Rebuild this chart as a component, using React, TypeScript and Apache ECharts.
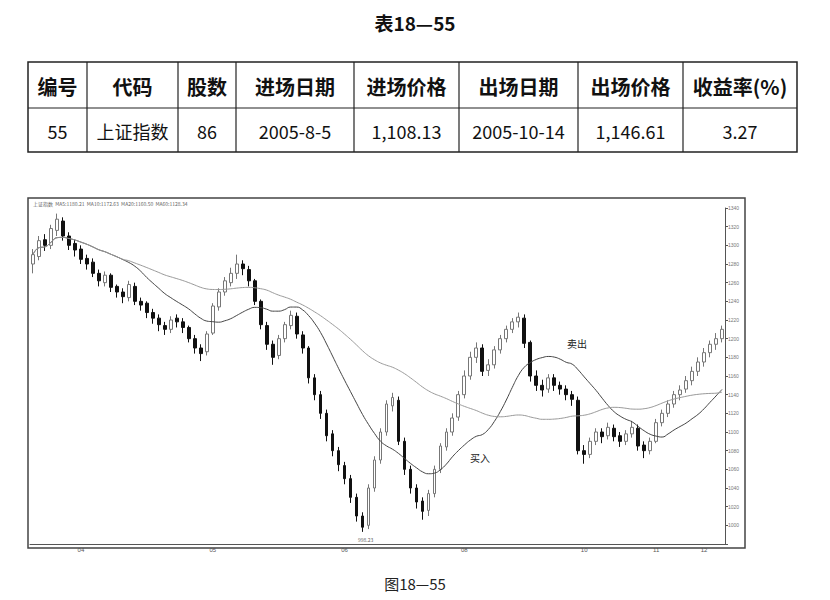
import { useEffect, useRef } from 'react';
import * as echarts from 'echarts';

// table 18-55
const tableHeader = ['编号', '代码', '股数', '进场日期', '进场价格', '出场日期', '出场价格', '收益率(%)'];
const tableRow = ['55', '上证指数', '86', '2005-8-5', '1,108.13', '2005-10-14', '1,146.61', '3.27'];
const colEdges = [28, 87, 178, 236, 354, 459, 578, 683, 797];

// daily bars [open, close, low, high]
const bars: number[][] = [
  [1280, 1290, 1270, 1296], [1288, 1305, 1284, 1310], [1306, 1300, 1294, 1312], [1300, 1318, 1296, 1322],
  [1316, 1328, 1310, 1334], [1326, 1310, 1305, 1330], [1310, 1300, 1295, 1314], [1302, 1295, 1288, 1306],
  [1296, 1285, 1280, 1300], [1286, 1280, 1274, 1290], [1282, 1270, 1266, 1286], [1270, 1262, 1256, 1274],
  [1260, 1268, 1256, 1272], [1268, 1255, 1250, 1270], [1256, 1250, 1244, 1258], [1250, 1245, 1238, 1254],
  [1244, 1258, 1240, 1262], [1256, 1240, 1236, 1260], [1240, 1236, 1230, 1244], [1238, 1228, 1222, 1240],
  [1228, 1222, 1216, 1232], [1222, 1215, 1208, 1226], [1214, 1210, 1204, 1218], [1210, 1220, 1206, 1224],
  [1222, 1218, 1212, 1226], [1218, 1212, 1206, 1222], [1212, 1200, 1196, 1214], [1200, 1190, 1184, 1204],
  [1190, 1184, 1176, 1194], [1186, 1205, 1182, 1208], [1206, 1235, 1204, 1238], [1234, 1250, 1230, 1254],
  [1250, 1262, 1246, 1266], [1260, 1270, 1256, 1276], [1270, 1280, 1264, 1290], [1280, 1275, 1268, 1284],
  [1274, 1262, 1256, 1278], [1262, 1240, 1236, 1264], [1240, 1215, 1210, 1242], [1214, 1194, 1188, 1218],
  [1194, 1180, 1172, 1198], [1182, 1200, 1178, 1204], [1200, 1215, 1196, 1218], [1214, 1225, 1210, 1230],
  [1224, 1205, 1200, 1228], [1204, 1190, 1184, 1208], [1190, 1158, 1152, 1192], [1158, 1140, 1134, 1162],
  [1140, 1120, 1114, 1144], [1120, 1096, 1090, 1124], [1098, 1080, 1074, 1102], [1080, 1065, 1058, 1084],
  [1064, 1050, 1044, 1068], [1050, 1030, 1024, 1054], [1030, 1010, 1004, 1034], [1010, 998, 993, 1014],
  [1000, 1040, 996, 1044], [1040, 1070, 1036, 1074], [1070, 1100, 1066, 1104], [1100, 1130, 1096, 1134],
  [1128, 1137, 1122, 1142], [1134, 1090, 1086, 1138], [1090, 1060, 1054, 1094], [1060, 1040, 1034, 1064],
  [1040, 1025, 1018, 1044], [1026, 1015, 1006, 1030], [1016, 1034, 1010, 1038], [1034, 1060, 1030, 1064],
  [1060, 1085, 1056, 1088], [1084, 1100, 1080, 1104], [1100, 1115, 1096, 1120], [1116, 1140, 1112, 1144],
  [1140, 1160, 1136, 1166], [1160, 1180, 1156, 1186], [1180, 1190, 1174, 1196], [1190, 1165, 1160, 1194],
  [1166, 1172, 1160, 1178], [1172, 1188, 1168, 1192], [1188, 1200, 1184, 1204], [1200, 1210, 1196, 1214],
  [1210, 1218, 1206, 1222], [1218, 1223, 1212, 1228], [1222, 1195, 1190, 1226], [1196, 1160, 1154, 1198],
  [1160, 1150, 1144, 1166], [1150, 1145, 1138, 1156], [1146, 1158, 1142, 1162], [1158, 1150, 1144, 1162],
  [1150, 1146, 1140, 1154], [1146, 1140, 1134, 1150], [1140, 1135, 1128, 1144], [1134, 1080, 1076, 1138],
  [1080, 1076, 1066, 1086], [1076, 1090, 1072, 1094], [1090, 1100, 1086, 1104], [1100, 1095, 1088, 1104],
  [1096, 1105, 1092, 1110], [1104, 1095, 1090, 1108], [1096, 1090, 1084, 1100], [1090, 1098, 1086, 1102],
  [1098, 1105, 1094, 1112], [1104, 1085, 1080, 1108], [1086, 1080, 1072, 1090], [1080, 1090, 1076, 1094],
  [1090, 1110, 1088, 1114], [1110, 1120, 1106, 1124], [1120, 1130, 1116, 1134], [1130, 1140, 1126, 1144],
  [1140, 1145, 1134, 1150], [1146, 1155, 1142, 1160], [1155, 1165, 1150, 1170], [1165, 1175, 1160, 1180],
  [1175, 1185, 1170, 1190], [1185, 1194, 1180, 1198], [1194, 1200, 1188, 1206], [1200, 1210, 1196, 1214],
];
const monthMarks: [number, string][] = [[8, '04'], [30, '05'], [52, '06'], [72, '08'], [92, '10'], [104, '11'], [112, '12']];
const yTicks = [1000, 1020, 1040, 1060, 1080, 1100, 1120, 1140, 1160, 1180, 1200, 1220, 1240, 1260, 1280, 1300, 1320, 1340];

function movingAvg(n: number) {
  return bars.map((_, i) => {
    const from = Math.max(0, i - n + 1);
    const slice = bars.slice(from, i + 1);
    return +(slice.reduce((s, b) => s + b[1], 0) / slice.length).toFixed(2);
  });
}

export default function App() {
  const ref = useRef<HTMLDivElement>(null);

  useEffect(() => {
    if (!ref.current) return;
    const chart = echarts.init(ref.current, undefined, { renderer: 'svg' });
    const font = '"Noto Sans CJK SC", sans-serif';
    const cells: any[] = [];
    colEdges.slice(0, -1).forEach((x0, i) => {
      const cx = (x0 + colEdges[i + 1]) / 2;
      cells.push({ type: 'text', x: cx, y: 86, style: { text: tableHeader[i], fontSize: 20, fontWeight: 'bold', fontFamily: font, fill: '#111', align: 'center', verticalAlign: 'middle' } });
      cells.push({ type: 'text', x: cx, y: 131, style: { text: tableRow[i], fontSize: 18, fontFamily: font, fill: '#111', align: 'center', verticalAlign: 'middle' } });
      if (i > 0) cells.push({ type: 'line', shape: { x1: x0, y1: 62, x2: x0, y2: 152 }, style: { stroke: '#222', lineWidth: 1.2 } });
    });
    const categories = bars.map((_, i) => {
      const m = monthMarks.find((mm) => mm[0] === i);
      return m ? m[1] : '';
    });

    chart.setOption({
      animation: false,
      backgroundColor: '#fff',
      grid: { left: 30, right: 105, top: 208, bottom: 56 },
      xAxis: {
        type: 'category',
        data: categories,
        boundaryGap: true,
        axisLine: { lineStyle: { color: '#555' } },
        axisTick: { show: false },
        axisLabel: { interval: 0, fontSize: 6, color: '#555', margin: 3 },
        splitLine: { show: false },
      },
      yAxis: {
        type: 'value',
        position: 'right',
        min: 980,
        max: 1340,
        interval: 20,
        axisLine: { show: true, lineStyle: { color: '#555' } },
        axisTick: { show: true, length: 3, lineStyle: { color: '#555' } },
        axisLabel: { fontSize: 5, color: '#777', margin: 3, formatter: (v: number) => (yTicks.includes(v) ? String(v) : '') },
        splitLine: { show: false },
      },
      series: [
        {
          type: 'candlestick',
          data: bars,
          barWidth: '55%',
          itemStyle: { color: '#fff', color0: '#111', borderColor: '#777', borderColor0: '#111', borderWidth: 1 },
        },
        { type: 'line', data: movingAvg(15), symbol: 'none', smooth: true, lineStyle: { color: '#444', width: 1 } },
        { type: 'line', data: movingAvg(40), symbol: 'none', smooth: true, lineStyle: { color: '#999', width: 1 } },
      ],
      graphic: [
        { type: 'text', x: 415, y: 22, style: { text: '表18—55', fontSize: 19, fontWeight: 'bold', fontFamily: font, fill: '#111', align: 'center', verticalAlign: 'middle' } },
        { type: 'rect', shape: { x: 28, y: 62, width: 769, height: 90 }, style: { fill: 'none', stroke: '#222', lineWidth: 1.5 } },
        { type: 'line', shape: { x1: 28, y1: 108, x2: 797, y2: 108 }, style: { stroke: '#222', lineWidth: 1.2 } },
        ...cells,
        { type: 'rect', shape: { x: 28, y: 198, width: 717, height: 350 }, style: { fill: 'none', stroke: '#444', lineWidth: 1.5 } },
        { type: 'text', x: 33, y: 201, style: { text: '上证指数  MA5:1180.21  MA10:1172.63  MA20:1160.50  MA60:1128.34', fontSize: 5, fontFamily: font, fill: '#666' } },
        { type: 'text', x: 470, y: 452, style: { text: '买入', fontSize: 10, fontFamily: font, fill: '#222' } },
        { type: 'text', x: 567, y: 338, style: { text: '卖出', fontSize: 10, fontFamily: font, fill: '#222' } },
        { type: 'text', x: 358, y: 537, style: { text: '998.23', fontSize: 5, fontFamily: font, fill: '#666' } },
        { type: 'text', x: 415, y: 583, style: { text: '图18—55', fontSize: 15, fontFamily: font, fill: '#222', align: 'center', verticalAlign: 'middle' } },
      ],
    });
    return () => chart.dispose();
  }, []);

  return <div ref={ref} style={{ width: 830, height: 600, position: 'absolute', left: 0, top: 0 }} />;
}
